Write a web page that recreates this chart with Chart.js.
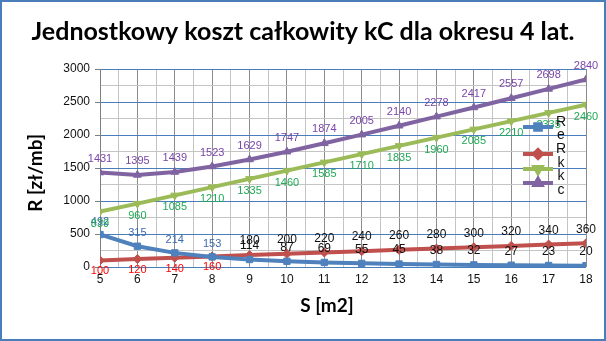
<!DOCTYPE html>
<html>
<head>
<meta charset="utf-8">
<script src="https://cdn.jsdelivr.net/npm/chart.js@4/dist/chart.umd.min.js"></script>
<style>
  html, body { margin: 0; padding: 0; background: #fff; }
</style>
</head>
<body>
<canvas id="cost-chart" width="606" height="341"></canvas>
<script>
/* Chart values */
let areas = [5, 6, 7, 8, 9, 10, 11, 12, 13, 14, 15, 16, 17, 18]
let costRe = [492, 315, 214, 153, 114, 87, 69, 55, 45, 38, 32, 27, 23, 20]
let costRk = [100, 120, 140, 160, 180, 200, 220, 240, 260, 280, 300, 320, 340, 360]
let costKk = [839, 960, 1085, 1210, 1335, 1460, 1585, 1710, 1835, 1960, 2085, 2210, 2335, 2460]
let costKc = [1431, 1395, 1439, 1523, 1629, 1747, 1874, 2005, 2140, 2278, 2417, 2557, 2698, 2840]
let seriesNames = ['Re', 'Rk', 'kk', 'kc']
let legendChars = ['R', 'e', 'R', 'k', 'k', 'c']   // legend text as it wraps in the picture

let chartTitle = 'Jednostkowy koszt całkowity kC dla okresu 4 lat.'
let xTitle = 'S [m2]'
let yTitle = 'R [zł/mb]'

let seriesColors = ['#4f81bd', '#c0504d', '#9bbb59', '#8064a2']
let pointStyles = ['rect', 'rectRot', 'triangle', 'triangle']
let pointRotations = [0, 0, 180, 0]

function toPoints(values) {
    return values.map((v, i) => ({ x: areas[i], y: v }))
}

let allSeries = [costRe, costRk, costKk, costKc]

let datasets = allSeries.map((values, k) => ({
    label: seriesNames[k],
    data: toPoints(values),
    borderColor: seriesColors[k],
    backgroundColor: seriesColors[k],
    borderWidth: 4,
    pointStyle: pointStyles[k],
    pointRotation: pointRotations[k],
    pointRadius: 4.5,
    pointBorderWidth: 1,
    tension: 0
}))

// colour / size / side of the value labels, per series and point
function labelStyle(ds, i) {
    if (ds == 0) return i < 4 ? { color: '#3d6aae', size: 11, dy: -13 } : { color: '#111', size: 12, dy: -14 }
    if (ds == 1) return i < 4 ? { color: '#ff0000', size: 11, dy: 11 } : { color: '#111', size: 12, dy: -14 }
    if (ds == 2) return { color: '#1faa55', size: 11, dy: 12 }
    return { color: '#7a45aa', size: 11, dy: -14 }
}

let valueLabels = {
    id: 'valueLabels',
    afterDatasetsDraw(chart) {
        let ctx = chart.ctx
        ctx.save()
        ctx.textAlign = 'center'
        ctx.textBaseline = 'middle'
        chart.data.datasets.forEach((dataset, ds) => {
            let meta = chart.getDatasetMeta(ds)
            meta.data.forEach((pt, i) => {
                let st = labelStyle(ds, i)
                ctx.fillStyle = st.color
                ctx.font = st.size + 'px "Liberation Sans"'
                ctx.fillText(String(allSeries[ds][i]), pt.x, pt.y + st.dy)
            })
        })
        ctx.restore()
    }
}

// legend on the right, drawn over the plot like in the picture
let sideLegend = {
    id: 'sideLegend',
    afterDraw(chart) {
        let ctx = chart.ctx
        let lineY = [127, 154, 169, 183]
        ctx.save()
        chart.data.datasets.forEach((dataset, k) => {
            ctx.strokeStyle = dataset.borderColor
            ctx.lineWidth = 4
            ctx.beginPath()
            ctx.moveTo(523, lineY[k])
            ctx.lineTo(553, lineY[k])
            ctx.stroke()
            Chart.helpers.drawPoint(ctx, {
                pointStyle: dataset.pointStyle,
                rotation: dataset.pointRotation,
                radius: 4,
                borderWidth: 1
            }, 538, lineY[k])
            ctx.fillStyle = dataset.backgroundColor
            ctx.fill()
        })
        ctx.fillStyle = '#111'
        ctx.font = '14px "Liberation Sans"'
        ctx.textAlign = 'center'
        ctx.textBaseline = 'middle'
        legendChars.forEach((c, j) => {
            ctx.fillText(c, 561, 122 + j * 13.6)
        })
        ctx.restore()
    }
}

// titles and the outer frame
let frameAndTitles = {
    id: 'frameAndTitles',
    afterDraw(chart) {
        let ctx = chart.ctx
        ctx.save()
        ctx.fillStyle = '#000'
        ctx.textAlign = 'center'
        ctx.textBaseline = 'middle'
        ctx.font = 'bold 25px Lato'
        ctx.fillText(chartTitle, 303, 32)
        ctx.font = 'bold 19px Lato'
        ctx.fillText(xTitle, 327, 306)
        ctx.translate(36, 173)
        ctx.rotate(-Math.PI / 2)
        ctx.fillText(yTitle, 0, 0)
        ctx.restore()

        ctx.save()
        ctx.strokeStyle = '#4a7ebb'
        ctx.lineWidth = 2
        ctx.strokeRect(1, 1, 604, 339)
        ctx.restore()
    }
}

let ctx = document.querySelector('#cost-chart').getContext('2d')

let costChart = new Chart(ctx, {
    type: 'line',
    data: { datasets: datasets },
    options: {
        responsive: false,
        animation: false,
        layout: { padding: { left: 0, right: 20, top: 69, bottom: 0 } },
        plugins: {
            legend: { display: false },
            title: { display: false },
            tooltip: { enabled: false }
        },
        scales: {
            x: {
                type: 'linear',
                min: 5,
                max: 18,
                afterBuildTicks(scale) {
                    let t = []
                    for (let v = 5; v <= 18; v += 0.5) t.push({ value: v })
                    scale.ticks = t
                },
                afterFit(scale) { scale.height = 74 },
                grid: {
                    color: c => Number.isInteger(c.tick.value) ? '#8c8c8c' : '#c4c4c4',
                    drawTicks: false
                },
                border: { display: false },
                ticks: {
                    autoSkip: false,
                    maxRotation: 0,
                    padding: 5,
                    color: '#111',
                    font: { family: 'Liberation Sans', size: 12 },
                    callback: v => Number.isInteger(v) ? String(v) : ''
                }
            },
            y: {
                min: 0,
                max: 3000,
                afterBuildTicks(scale) {
                    let t = []
                    for (let v = 0; v <= 3000; v += 250) t.push({ value: v })
                    scale.ticks = t
                },
                afterFit(scale) { scale.width = 100 },
                grid: {
                    color: c => c.tick.value % 500 == 0 ? '#4a7ebb' : '#c4c4c4',
                    tickColor: c => c.tick.value % 500 == 0 ? '#7f7f7f' : 'rgba(0,0,0,0)',
                    tickLength: 5
                },
                border: { display: true, color: '#7f7f7f', width: 1 },
                ticks: {
                    autoSkip: false,
                    padding: 5,
                    color: '#111',
                    font: { family: 'Liberation Sans', size: 12 },
                    callback: v => v % 500 == 0 ? String(v) : ''
                }
            }
        }
    },
    plugins: [valueLabels, sideLegend, frameAndTitles]
})
</script>
</body>
</html>
